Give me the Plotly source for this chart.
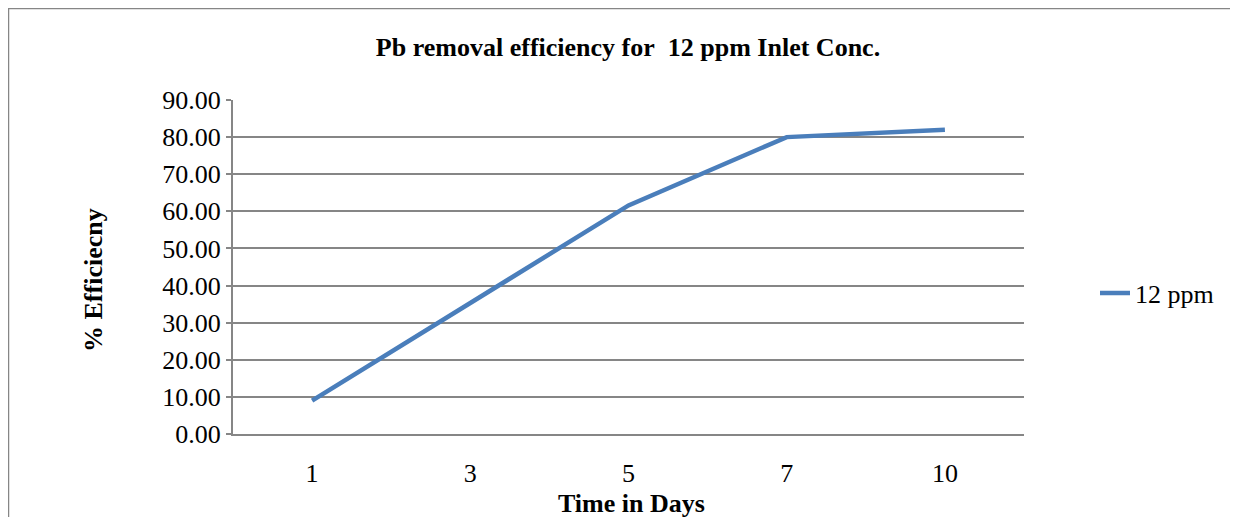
import plotly.graph_objects as go

days = ["1", "3", "5", "7", "10"]
efficiency = [9.0, 35.4, 61.6, 80.0, 82.0]
series_name = "12 ppm"

# page is rendered with an 8px body margin, so work in screen pixels minus 8
OFF = 8
W, H = 1238 - OFF, 517 - OFF
L, R, T, B = 233 - OFF, 1024 - OFF, 100 - OFF, 434 - OFF


def px_x(p):
    return (p - OFF - L) / (R - L)


def px_y(p):
    return (B - (p - OFF)) / (B - T)


font = "Liberation Serif, Times New Roman, serif"
FS = 26

fig = go.Figure()
fig.add_trace(go.Scatter(
    x=days, y=efficiency, mode="lines", name=series_name,
    line=dict(color="#4a7ebb", width=4.5),
))

fig.update_layout(
    width=W, height=H,
    margin=dict(l=L, r=W - R, t=T, b=H - B),
    paper_bgcolor="white", plot_bgcolor="white",
    font=dict(family=font, size=FS, color="black"),
    title=dict(text="<b>Pb removal efficiency for\u00a0 12 ppm Inlet Conc.</b>",
               x=(628 - OFF) / W, xanchor="center",
               y=1 - (47 - OFF) / H, yanchor="middle",
               font=dict(size=FS, family=font)),
    showlegend=True,
    legend=dict(x=px_x(1095), y=px_y(293), xanchor="left", yanchor="middle",
                font=dict(size=FS, family=font), bgcolor="rgba(0,0,0,0)"),
    xaxis=dict(
        type="category", range=[-0.5, 4.5],
        showgrid=False, showline=True, linecolor="#868686", linewidth=2,
        ticks="", ticklabelstandoff=15,
        fixedrange=True,
    ),
    yaxis=dict(
        range=[0, 90], dtick=10, tickformat=".2f",
        showgrid=True, gridcolor="#868686", gridwidth=1.5,
        showline=True, linecolor="#868686", linewidth=2,
        ticks="outside", ticklen=5, tickcolor="#868686", tickwidth=1.5,
        zeroline=False, fixedrange=True,
    ),
    annotations=[
        dict(text="<b>Time in Days</b>", xref="paper", yref="paper",
             x=px_x(631), y=px_y(503), xanchor="center", yanchor="middle",
             showarrow=False, font=dict(size=FS, family=font)),
        dict(text="<b>% Efficiecny</b>", xref="paper", yref="paper",
             x=px_x(93), y=px_y(280), xanchor="center", yanchor="middle",
             textangle=-90, showarrow=False, font=dict(size=FS, family=font)),
    ],
)

# outer chart border (top and left edges visible)
fig.add_shape(type="rect", xref="paper", yref="paper",
              x0=px_x(OFF), x1=px_x(1300), y0=px_y(600), y1=px_y(OFF),
              line=dict(color="#868686", width=2.5), layer="below")

fig.write_html("out.html")
